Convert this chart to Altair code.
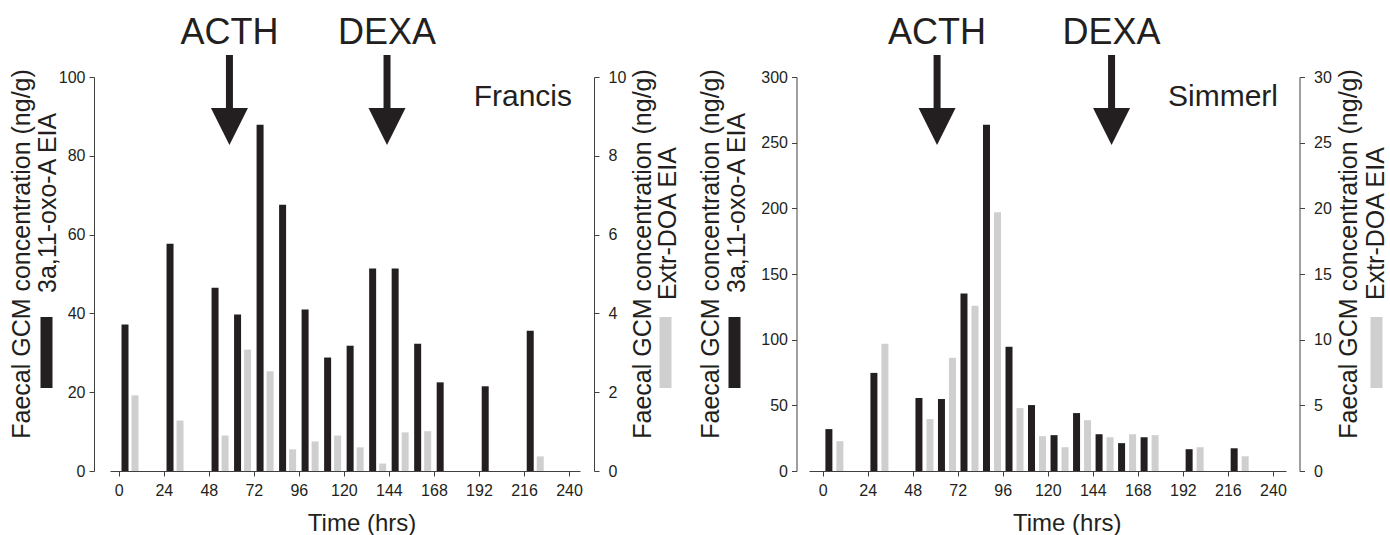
import altair as alt
import pandas as pd

# ---------------- data ----------------
times = [6, 30, 54, 66, 78, 90, 102, 114, 126, 138, 150, 162, 174, 198, 222]

francis_oxo = [37.2, 57.7, 46.5, 39.7, 87.9, 67.6, 41.0, 28.8, 31.8, 51.4, 51.4, 32.3, 22.5, 21.5, 35.6]
francis_doa = [1.92, 1.28, 0.90, 3.08, 2.53, 0.55, 0.75, 0.90, 0.60, 0.19, 0.98, 1.01, None, None, 0.37]

simmerl_oxo = [31.9, 74.7, 55.6, 54.8, 135.1, 263.6, 94.6, 50.2, 27.3, 44.1, 28.0, 21.2, 25.7, 16.6, 17.3]
simmerl_doa = [2.27, 9.69, 3.95, 8.62, 12.59, 19.7, 4.79, 2.65, 1.81, 3.87, 2.57, 2.80, 2.73, 1.81, 1.12]

event_labels = ["ACTH", "DEXA"]
francis_events = [59, 143]
simmerl_events = [61, 154]

x_ticks = [0, 24, 48, 72, 96, 120, 144, 168, 192, 216, 240]
francis_oxo_ticks = [0, 20, 40, 60, 80, 100]
francis_doa_ticks = [0, 2, 4, 6, 8, 10]
simmerl_oxo_ticks = [0, 50, 100, 150, 200, 250, 300]
simmerl_doa_ticks = [0, 5, 10, 15, 20, 25, 30]

TITLE1 = "Faecal GCM concentration (ng/g)"
TITLE_OXO = "3a,11-oxo-A EIA"
TITLE_DOA = "Extr-DOA EIA"

BLACK = "#231f20"
GRAY = "#cfcfcf"
AXC = "#404040"
FONT = "Liberation Sans"
H = 394
ONE = pd.DataFrame({"k": [0]})


def vtext(txt, x, y, align, size=25):
    return alt.Chart(ONE).mark_text(
        text=txt, angle=270, align=align, baseline="alphabetic",
        fontSize=size, font=FONT, color=BLACK
    ).encode(x=alt.value(x), y=alt.value(y))


def rect(x1, x2, y1, y2, color, opacity=1.0):
    return alt.Chart(ONE).mark_rect(color=color, opacity=opacity).encode(
        x=alt.value(x1), x2=alt.value(x2), y=alt.value(y1), y2=alt.value(y2)
    )


def panel(name, oxo, doa, oxo_dom, oxo_ticks, doa_dom, doa_ticks, ev_times,
          width, xdom, loff, roff, bdx, gdx, title_x, pos, anchor=False):
    df = pd.DataFrame({"time": times, "oxo": oxo, "doa": doa})
    xenc = alt.X(
        "time:Q",
        scale=alt.Scale(domain=xdom, nice=False, zero=False),
        axis=alt.Axis(values=x_ticks, title="Time (hrs)", labelPadding=6,
                      titleX=title_x, titleY=59, titleBaseline="alphabetic",
                      titleAlign="center", titleAnchor="start"),
    )
    black = alt.Chart(df).mark_bar(width=7, xOffset=bdx, color=BLACK).encode(
        x=xenc,
        y=alt.Y("oxo:Q", title=None,
                scale=alt.Scale(domain=oxo_dom, nice=False),
                axis=alt.Axis(orient="left", values=oxo_ticks, offset=loff,
                              labelPadding=4)),
    )
    gray = alt.Chart(df).mark_bar(width=7, xOffset=gdx, color=GRAY).encode(
        x=xenc,
        y=alt.Y("doa:Q", title=None,
                scale=alt.Scale(domain=doa_dom, nice=False),
                axis=alt.Axis(orient="right", values=doa_ticks, offset=roff,
                              labelPadding=9)),
    )
    ev = alt.Chart(pd.DataFrame({"time": ev_times, "label": event_labels}))
    shaft = ev.mark_rule(color=BLACK, strokeWidth=7).encode(
        x="time:Q", y=alt.value(-22), y2=alt.value(36))
    head = ev.mark_point(shape="M-1,-1L1,-1L0,1Z", size=1369, filled=True,
                         opacity=1, color=BLACK, strokeWidth=0).encode(
        x="time:Q", y=alt.value(49.5))
    etext = ev.mark_text(fontSize=36, font=FONT, color=BLACK,
                         baseline="alphabetic").encode(
        x="time:Q", y=alt.value(-33), text="label:N")
    nm = alt.Chart(ONE).mark_text(text=name, fontSize=30, font=FONT, color=BLACK,
                                  align="right", baseline="alphabetic").encode(
        x=alt.value(width - 8), y=alt.value(29))
    layers = [black, gray, shaft, head, etext, nm,
              vtext(TITLE1, pos["l1"], 177, "center"),
              vtext(TITLE_OXO, pos["l2"], 216, "left"),
              rect(pos["ls"], pos["ls"] + 12, 240, 311, BLACK),
              vtext(TITLE1, pos["r1"], 177, "center"),
              vtext(TITLE_DOA, pos["r2"], 223, "left"),
              rect(pos["rs"], pos["rs"] + 12, 240, 311, GRAY)]
    if anchor:
        layers.append(rect(-109.5, -109, -77, -76.5, "#ffffff", 0))
    return alt.layer(*layers).resolve_scale(y="independent").properties(
        width=width, height=H)


left = panel("Francis", francis_oxo, francis_doa, [0, 100], francis_oxo_ticks,
             [0, 10], francis_doa_ticks, francis_events,
             470, [-2, 243.2], 16, 14, -5, 5, 251.5,
             {"l1": -80, "l2": -54.5, "ls": -69.5, "r1": 540.5, "r2": 565.5, "rs": 549.5},
             anchor=True)
right = panel("Simmerl", simmerl_oxo, simmerl_doa, [0, 300], simmerl_oxo_ticks,
              [0, 30], simmerl_doa_ticks, simmerl_events,
              477, [-4.6, 244.3], 12.5, 13.5, -5, 6, 257.7,
              {"l1": -90.5, "l2": -64.5, "ls": -80.5, "r1": 547.5, "r2": 574.5, "rs": 561.5})

chart = alt.hconcat(left, right, spacing=229, bounds="flush").properties(
    padding=0
).configure_view(strokeWidth=0).configure_axis(
    grid=False, labelFont=FONT, labelFontSize=16, labelColor=BLACK,
    domainColor=AXC, tickColor=AXC, tickSize=5, domainWidth=1, tickWidth=1,
    titleFont=FONT, titleFontSize=24, titleFontWeight="normal", titleColor=BLACK,
)

chart.save("out.html", embed_options={"renderer": "svg", "actions": False})
